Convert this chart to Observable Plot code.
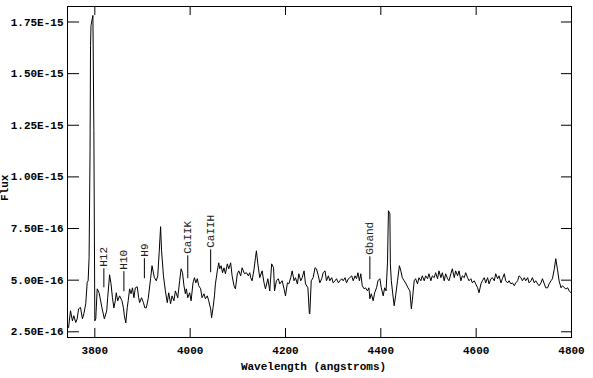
<!DOCTYPE html>
<html>
<head>
<meta charset="utf-8">
<script src="https://cdn.jsdelivr.net/npm/d3@7"></script>
<script src="https://cdn.jsdelivr.net/npm/@observablehq/plot@0.6"></script>
<style>
  html, body { margin: 0; padding: 0; background: #fff; }
  #chart svg { display: block; }
</style>
</head>
<body>
<div id="chart"></div>
<script>
// Wavelength (angstroms)
const wave = [3745,3749,3753,3756,3760,3763,3766,3770,3774,3777,3781,3784,3786,3788,3790,3791,3792,3796,3798,3800,
3802,3805,3809,3815,3820,3825,3827,3831,3834,3837,3840,3843,3845,3848,3852,3857,3860,3862,3865,3868,
3870,3873,3876,3879,3882,3885,3889,3892,3894,3898,3902,3905,3908,3912,3917,3920,3925,3929,3932,3935,
3938,3940,3944,3948,3952,3955,3959,3962,3966,3969,3974,3978,3981,3984,3987,3990,3992,3995,3999,4002,
4006,4009,4012,4015,4018,4022,4025,4029,4032,4036,4039,4043,4045,4048,4051,4053,4057,4060,4062,4065,
4068,4071,4074,4078,4081,4085,4088,4092,4095,4099,4102,4106,4109,4114,4118,4122,4125,4127,4130,4134,
4137,4139,4142,4146,4151,4155,4158,4163,4167,4171,4175,4177,4181,4185,4188,4193,4197,4200,4204,4207,
4211,4214,4218,4221,4225,4228,4232,4235,4239,4242,4247,4250,4251,4254,4258,4262,4265,4269,4272,4276,
4279,4283,4286,4290,4293,4297,4300,4304,4307,4311,4314,4318,4321,4325,4328,4332,4335,4339,4342,4346,
4349,4352,4355,4358,4361,4365,4368,4372,4375,4377,4380,4384,4387,4391,4394,4398,4401,4405,4408,4411,
4414,4416,4419,4420,4422,4425,4428,4431,4435,4439,4442,4445,4449,4453,4457,4461,4464,4466,4470,4473,
4477,4480,4484,4487,4491,4494,4498,4501,4505,4508,4512,4515,4519,4522,4526,4529,4533,4536,4540,4543,
4547,4550,4554,4557,4561,4564,4568,4571,4575,4578,4582,4585,4589,4592,4596,4599,4603,4606,4610,4613,
4617,4620,4624,4627,4631,4634,4638,4641,4645,4648,4652,4655,4659,4662,4666,4669,4673,4676,4680,4683,
4687,4690,4694,4697,4701,4704,4708,4711,4715,4718,4722,4725,4729,4732,4736,4739,4743,4746,4750,4753,
4757,4760,4764,4767,4771,4774,4778,4781,4785,4788,4792,4795,4799];
// Flux in units of 1E-16
const fluxE16 = [2.71,3.52,3.03,3.28,2.95,3.13,3.61,3.68,3.13,3.37,3.86,4.89,4.97,6.09,11.27,16.36,17.33,17.82,12.24,3.03,
3.13,4.58,4.39,3.66,3.13,3.52,4.15,5.26,4.82,4.15,3.66,4.00,4.39,4.00,4.24,4.00,3.66,3.28,2.93,3.66,
4.00,4.58,4.34,4.63,4.15,4.63,4.68,4.15,3.91,4.15,3.91,3.66,3.66,4.10,5.07,5.70,5.12,4.97,5.21,6.33,
7.59,6.42,5.21,4.48,3.91,4.39,3.86,4.24,4.00,4.48,4.15,4.97,5.55,5.36,4.73,4.34,4.58,4.15,4.39,4.00,
4.87,5.12,4.87,5.07,4.73,4.58,4.15,4.34,4.10,4.24,4.00,3.61,3.18,3.66,4.24,4.82,5.45,5.84,5.55,5.70,
5.36,5.60,5.31,5.79,5.55,5.84,5.21,4.73,4.58,5.31,5.45,5.21,5.60,5.31,5.36,5.21,5.36,5.12,4.97,5.53,
6.09,6.42,5.79,5.12,5.45,4.87,4.58,5.07,4.48,5.79,5.60,4.48,4.97,5.07,4.82,4.97,4.58,4.24,4.87,4.82,
5.12,5.45,4.97,5.12,4.82,5.31,4.97,5.12,5.45,4.82,4.63,3.42,3.37,4.97,5.12,5.60,5.55,5.21,4.87,5.07,
5.36,5.45,4.97,5.21,4.97,5.12,4.87,4.97,5.07,4.87,4.97,5.07,4.97,5.12,4.87,5.07,5.12,5.21,4.97,5.21,
5.07,5.36,4.97,5.31,4.73,4.58,4.63,4.48,4.63,4.10,4.34,4.00,4.39,4.63,4.97,5.07,4.63,4.24,4.63,4.48,
5.84,8.36,8.22,5.79,4.97,4.34,3.76,4.24,4.97,5.70,5.45,5.12,4.97,4.82,4.63,4.48,3.61,4.00,4.97,5.07,
4.82,5.12,4.97,5.21,4.97,5.21,5.07,5.31,4.97,5.21,5.12,5.36,5.07,5.45,5.12,5.36,4.97,5.31,5.07,4.97,
5.31,5.55,5.12,5.45,5.21,5.45,4.97,5.21,5.12,5.36,5.12,4.97,5.07,4.87,4.97,4.82,4.63,4.39,4.82,4.97,
5.12,4.87,5.12,4.82,5.07,5.12,4.97,5.31,5.07,5.21,4.87,5.07,5.31,4.97,4.87,4.97,4.82,4.87,4.73,4.87,
4.97,5.21,5.12,4.97,5.12,4.97,5.12,4.87,4.97,5.12,4.87,4.97,4.82,4.73,4.87,5.07,4.82,4.63,4.63,4.82,
4.97,5.07,5.55,6.04,5.45,4.97,4.63,4.73,4.63,4.58,4.63,4.48,4.39];

// Line identifications
const lineNames = ["H12", "H10", "H9", "CaIIK", "CaIIH", "Gband"];
const lineWave = [3819, 3861, 3904, 3995, 4043, 4377];
const lineTopE16 = [5.55, 5.41, 6.04, 6.18, 6.47, 6.13];
const lineBottomE16 = [4.63, 4.44, 5.07, 5.07, 5.36, 5.02];

// Axes
const xTicks = [3800, 4000, 4200, 4400, 4600, 4800];
const yTicksE16 = [2.5, 5, 7.5, 10, 12.5, 15, 17.5];
const xTitle = "Wavelength (angstroms)";
const yTitle = "Flux";

const W = 593, H = 378, ML = 67, MR = 22, MT = 6, MB = 41;
const FW = W - ML - MR, FH = H - MT - MB;

const spec = wave.map((w, i) => ({w, f: fluxE16[i]}));
const lines = lineNames.map((name, i) => ({name, w: lineWave[i], top: lineTopE16[i], bottom: lineBottomE16[i]}));
const fmtY = d => d3.format(".2e")(d * 1e-16).toUpperCase();

const chart = Plot.plot({
  width: W,
  height: H,
  marginLeft: ML,
  marginRight: MR,
  marginTop: MT,
  marginBottom: MB,
  style: {fontFamily: "'Liberation Mono', 'DejaVu Sans Mono', monospace", fontSize: "11px", fontWeight: "bold", background: "#fff", color: "#000"},
  x: {domain: [3742.7, 4800]},
  y: {domain: [2.224, 18.25]},
  marks: [
    // inward tick marks on all four sides
    Plot.tickY(yTicksE16, {y: d => d, insetRight: FW - 12, stroke: "#000"}),
    Plot.tickY(yTicksE16, {y: d => d, insetLeft: FW - 10, stroke: "#000"}),
    Plot.tickX(xTicks, {x: d => d, insetTop: FH - 9, stroke: "#000"}),
    Plot.tickX(xTicks, {x: d => d, insetBottom: FH - 9, stroke: "#000"}),
    // tick labels
    Plot.axisY({anchor: "left", ticks: yTicksE16, tickSize: 0, tickPadding: 4, tickFormat: fmtY, label: null}),
    Plot.axisX({anchor: "bottom", ticks: xTicks, tickSize: 0, tickPadding: 9, tickFormat: d => String(d), label: null}),
    Plot.frame({stroke: "#000"}),
    Plot.line(spec, {x: "w", y: "f", stroke: "#000", strokeWidth: 1}),
    Plot.ruleX(lines, {x: "w", y1: "bottom", y2: "top", stroke: "#000", strokeWidth: 1}),
    Plot.text(lines, {x: "w", y: "top", text: "name", rotate: -90, textAnchor: "start", dy: -2, fontWeight: "normal", fontSize: 11, fill: "#222"}),
    Plot.text([xTitle], {frameAnchor: "bottom", dx: -6, dy: 32, fontSize: 11}),
    Plot.text([yTitle], {frameAnchor: "left", rotate: -90, dx: -63, dy: 29, fontSize: 11})
  ]
});
document.getElementById("chart").appendChild(chart);
</script>
</body>
</html>
